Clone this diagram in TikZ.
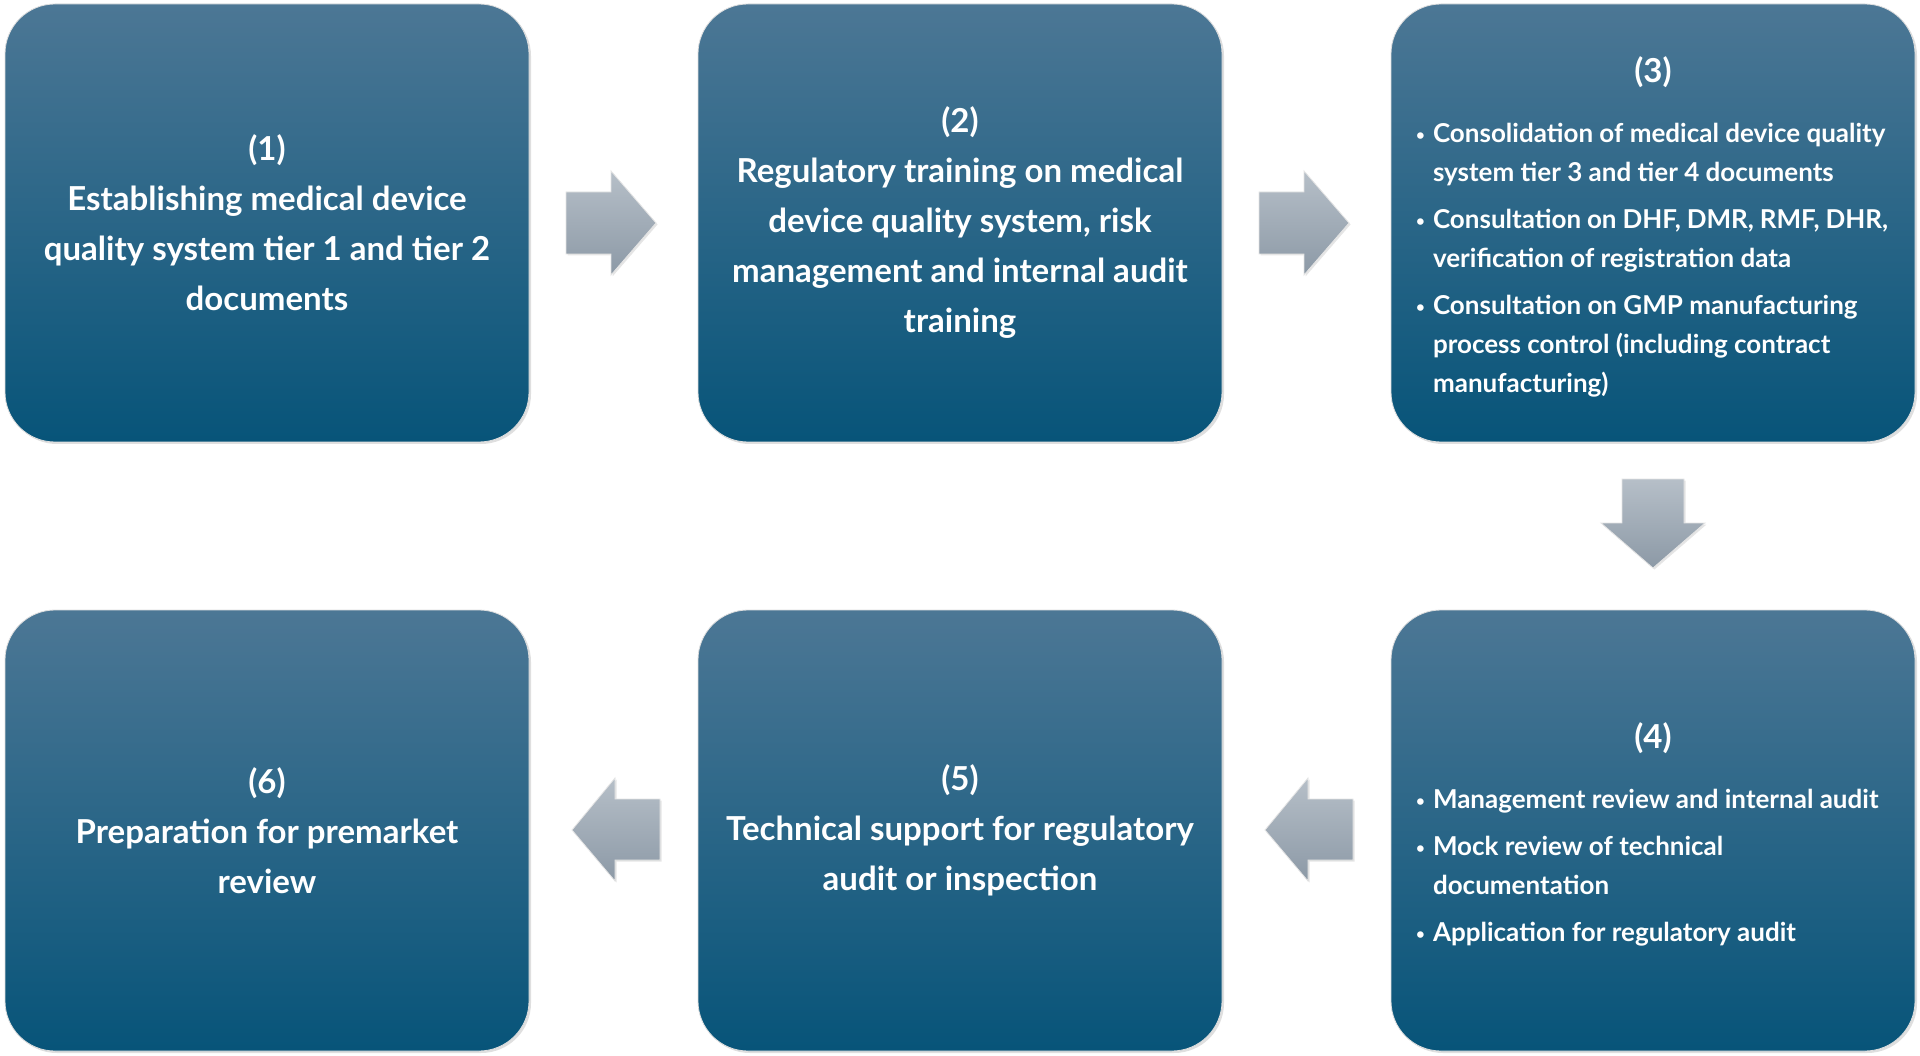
\documentclass[tikz,border=0pt]{standalone}
\usepackage{fontspec}
\setmainfont{Lato}
\usetikzlibrary{shadows}
\definecolor{boxtop}{RGB}{76,119,149}
\definecolor{boxbot}{RGB}{7,84,121}
\definecolor{arrtop}{RGB}{182,191,200}
\definecolor{arrbot}{RGB}{140,153,166}
\newcommand{\mainsz}{\fontsize{33}{50}\selectfont\bfseries}
\newcommand{\bulsz}{\fontsize{26}{39}\selectfont\bfseries}
\newcommand{\smallbul}{\makebox[20pt][l]{\hspace{3pt}\raisebox{2.5pt}{\fontsize{15}{15}\selectfont\textbullet}}}
\newcommand{\bulstrut}{\rule[-8pt]{0pt}{28pt}}
\newcommand{\bitem}[1]{\noindent\smallbul\parbox[t]{455pt}{\raggedright\bulsz #1\bulstrut}\par\prevdepth=8pt\relax}
\tikzset{
  stepbox/.style={rounded corners=50pt, minimum width=524pt,
    top color=boxtop, bottom color=boxbot, draw=white!75!gray, line width=0.8pt,
    drop shadow={opacity=0.25, shadow xshift=2pt, shadow yshift=-2pt},
    text=white, align=center, inner sep=0pt, font=\mainsz},
  blockarrow/.style={top color=arrtop, bottom color=arrbot, draw=white!80!gray, line width=0.8pt,
    drop shadow={opacity=0.2, shadow xshift=1.5pt, shadow yshift=-1.5pt}}
}
\begin{document}
\begin{tikzpicture}[x=1pt,y=-1pt]
\useasboundingbox (0,0) rectangle (1920,1056);
\fill[white] (0,0) rectangle (1920,1056);
% boxes
\node[stepbox, minimum height=438pt] (b1) at (267,223) {(1)\\Establishing medical device\\quality system tier 1 and tier 2\\documents};
\node[stepbox, minimum height=438pt] (b2) at (960,223) {(2)\\Regulatory training on medical\\device quality system, risk\\management and internal audit\\training};
\node[stepbox, minimum height=438pt] (b3) at (1653,223) {%
  \begin{minipage}{480pt}\vspace*{12pt}\centering\mainsz (3)\par\vspace{21pt}
  \raggedright\bulsz
  \bitem{Consolidation of medical device quality\\system tier 3 and tier 4 documents}\vspace{8pt}
  \bitem{Consultation on DHF, DMR, RMF, DHR,\\verification of registration data}\vspace{8pt}
  \bitem{Consultation on GMP manufacturing\\process control (including contract\\manufacturing)}
  \end{minipage}};
\node[stepbox, minimum height=441pt] (b4) at (1653,830.5) {%
  \begin{minipage}{480pt}\vspace*{12pt}\centering\mainsz (4)\par\vspace{21pt}
  \raggedright\bulsz
  \bitem{Management review and internal audit}\vspace{8pt}
  \bitem{Mock review of technical\\documentation}\vspace{8pt}
  \bitem{Application for regulatory audit}
  \end{minipage}};
\node[stepbox, minimum height=441pt] (b5) at (960,830.5) {(5)\\Technical support for regulatory\\audit or inspection};
\node[stepbox, minimum height=441pt] (b6) at (267,830.5) {(6)\\Preparation for premarket\\review};
% block arrows
\path[blockarrow] (566,192) -- (611,192) -- (611,171) -- (656,223) -- (611,275) -- (611,254) -- (566,254) -- cycle;
\path[blockarrow] (1259,192) -- (1304,192) -- (1304,171) -- (1349,223) -- (1304,275) -- (1304,254) -- (1259,254) -- cycle;
\path[blockarrow] (1622,479) -- (1684,479) -- (1684,523) -- (1705,523) -- (1653,568) -- (1601,523) -- (1622,523) -- cycle;
\path[blockarrow] (1353,799) -- (1308,799) -- (1308,778) -- (1265,830) -- (1308,881) -- (1308,860) -- (1353,860) -- cycle;
\path[blockarrow] (660,799) -- (615,799) -- (615,778) -- (572,830) -- (615,881) -- (615,860) -- (660,860) -- cycle;
\end{tikzpicture}
\end{document}
